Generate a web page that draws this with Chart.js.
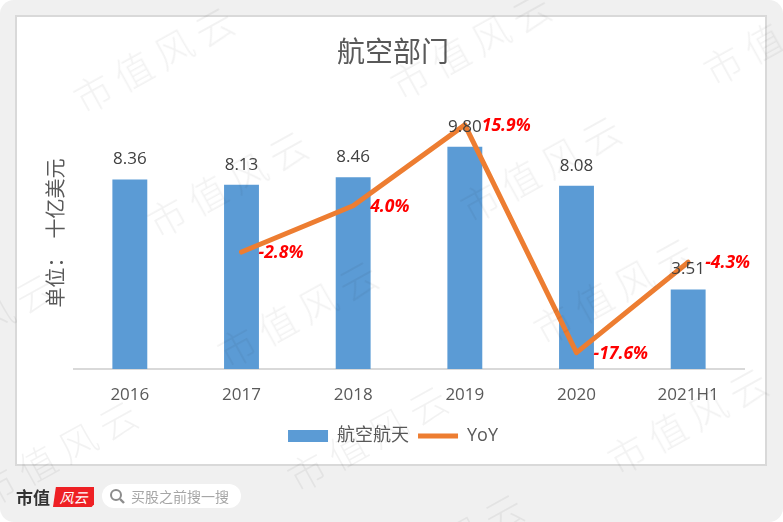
<!DOCTYPE html>
<html>
<head>
<meta charset="utf-8">
<script src="https://cdn.jsdelivr.net/npm/chart.js@4"></script>
<style>
  html, body { margin: 0; padding: 0; background: #fff; }
  #page { position: relative; width: 783px; height: 522px; overflow: hidden; background: #f0f0f0; border-radius: 14px;
          font-family: "Noto Sans CJK SC", sans-serif; }
  #panel { position: absolute; left: 15px; top: 15px; width: 748px; height: 447px; background: #fff; border: 2px solid #d9d9d9; }
  #chart { position: absolute; left: 0; top: 0; }
  .wm { position: absolute; font-size: 38px; letter-spacing: 8px; font-weight: 300; color: rgba(0,0,0,0.05); white-space: nowrap;
        transform: translate(-50%, -50%) rotate(-29deg); pointer-events: none; }
  #brand { position: absolute; left: 16px; top: 486px; font-size: 17px; font-weight: 700; color: #333; line-height: 22px; }
  #badge { position: absolute; left: 53px; top: 487px; width: 41px; height: 20px; background: #ee2024; color: #fff; font-size: 14px; font-style: italic; line-height: 20px; text-align: center;
           clip-path: polygon(7% 0, 100% 0, 100% 88%, 94% 100%, 0 100%); }
  #search { position: absolute; left: 102px; top: 484px; width: 139px; height: 24px; background: #fff; border-radius: 12px; color: #a6a6a6; font-size: 14px; line-height: 24px; }
  #search span { position: absolute; left: 29px; top: 0; white-space: nowrap; }
  #search svg { position: absolute; left: 7px; top: 4px; }
</style>
</head>
<body>
<div id="page">
  <div id="panel"></div>
  <canvas id="chart" width="783" height="522"></canvas>
  <div id="brand">市值</div>
  <div id="badge">风云</div>
  <div id="search">
    <svg width="17" height="17" viewBox="0 0 17 17"><circle cx="7" cy="7" r="5" fill="none" stroke="#8c8c8c" stroke-width="2"/><line x1="11" y1="11" x2="15" y2="15" stroke="#8c8c8c" stroke-width="2.4"/></svg>
    <span>买股之前搜一搜</span>
  </div>
</div>
<script>
const categories = ['2016', '2017', '2018', '2019', '2020', '2021H1'];
const revenue = [8.36, 8.13, 8.46, 9.80, 8.08, 3.51];
const yoy = [null, -2.8, 4.0, 15.9, -17.6, -4.3];

const latin = '"Open Sans", "Noto Sans CJK SC", sans-serif';
const cjk = '"Noto Sans CJK SC", sans-serif';

// value labels, drawn by hand since the datalabels plugin is not available
const barLabels = {
  id: 'barLabels',
  afterDatasetsDraw(chart) {
    const ctx = chart.ctx;
    ctx.save();
    ctx.font = '17px ' + latin;
    ctx.fillStyle = '#404040';
    ctx.textAlign = 'center';
    ctx.textBaseline = 'middle';
    chart.getDatasetMeta(0).data.forEach((bar, i) => {
      ctx.fillText(revenue[i].toFixed(2), bar.x, bar.y - 20);
    });
    ctx.restore();
  }
};

const yoyLabels = {
  id: 'yoyLabels',
  afterDatasetsDraw(chart) {
    const ctx = chart.ctx;
    ctx.save();
    ctx.font = 'italic bold 17.5px ' + latin;
    ctx.fillStyle = '#ff0000';
    ctx.textAlign = 'left';
    ctx.textBaseline = 'middle';
    chart.getDatasetMeta(1).data.forEach((pt, i) => {
      if (yoy[i] === null) return;
      ctx.fillText(yoy[i].toFixed(1) + '%', pt.x + 17, pt.y + 1);
    });
    ctx.restore();
  }
};

new Chart(document.getElementById('chart').getContext('2d'), {
  type: 'bar',
  data: {
    labels: categories,
    datasets: [
      {
        label: '航空航天',
        data: revenue,
        yAxisID: 'y',
        backgroundColor: '#5b9bd5',
        barPercentage: 0.3125,
        categoryPercentage: 1,
        order: 2
      },
      {
        type: 'line',
        label: 'YoY',
        data: yoy,
        yAxisID: 'y1',
        borderColor: '#ed7d31',
        backgroundColor: '#ed7d31',
        borderWidth: 5,
        borderCapStyle: 'round',
        borderJoinStyle: 'round',
        pointRadius: 0,
        tension: 0,
        order: 1
      }
    ]
  },
  options: {
    responsive: false,
    animation: false,
    layout: { padding: { left: 42, right: 39, top: 17, bottom: 67 } },
    plugins: {
      tooltip: { enabled: false },
      title: {
        display: true,
        text: '航空部门',
        color: '#595959',
        font: { family: cjk, size: 28, weight: 'normal' },
        padding: { top: 18, bottom: 28.4 }
      },
      legend: {
        position: 'bottom',
        labels: {
          usePointStyle: true,
          pointStyleWidth: 40,
          boxHeight: 12,
          color: '#595959',
          font: { family: latin, size: 18 },
          padding: 9,
          sort: (a, b) => a.datasetIndex - b.datasetIndex,
          generateLabels(chart) {
            const items = Chart.defaults.plugins.legend.labels.generateLabels(chart);
            items.forEach(it => {
              it.pointStyle = it.text === 'YoY' ? 'line' : 'rect';
              if (it.text !== 'YoY') it.lineWidth = 0;
            });
            return items;
          }
        }
      }
    },
    scales: {
      x: {
        grid: { display: false },
        border: { color: '#d9d9d9', width: 2 },
        ticks: { color: '#595959', font: { family: latin, size: 17 }, padding: 8, maxRotation: 0 },
        afterFit(scale) { scale.height = 49; }
      },
      y: {
        min: 0,
        max: 12,
        position: 'left',
        grid: { display: false },
        border: { display: false },
        ticks: { display: false },
        title: {
          display: true,
          text: '单位：  十亿美元',
          color: '#595959',
          font: { family: cjk, size: 20, weight: 'normal' },
          padding: { top: 1, bottom: 0 }
        },
        afterFit(scale) { scale.width = 32; }
      },
      y1: {
        min: -20,
        max: 20,
        position: 'right',
        display: false
      }
    }
  },
  plugins: [barLabels, yoyLabels]
});

// watermark tiles
const marks = [[156, 56], [473, 42], [786, 28], [230, 180], [543, 165], [-23, 323], [300, 310], [616, 287], [60, 450], [370, 435], [690, 417], [446, 543]];
const page = document.getElementById('page');
marks.forEach(m => {
  const s = document.createElement('div');
  s.className = 'wm';
  s.textContent = '市值风云';
  s.style.left = m[0] + 'px';
  s.style.top = m[1] + 'px';
  page.appendChild(s);
});
</script>
</body>
</html>
